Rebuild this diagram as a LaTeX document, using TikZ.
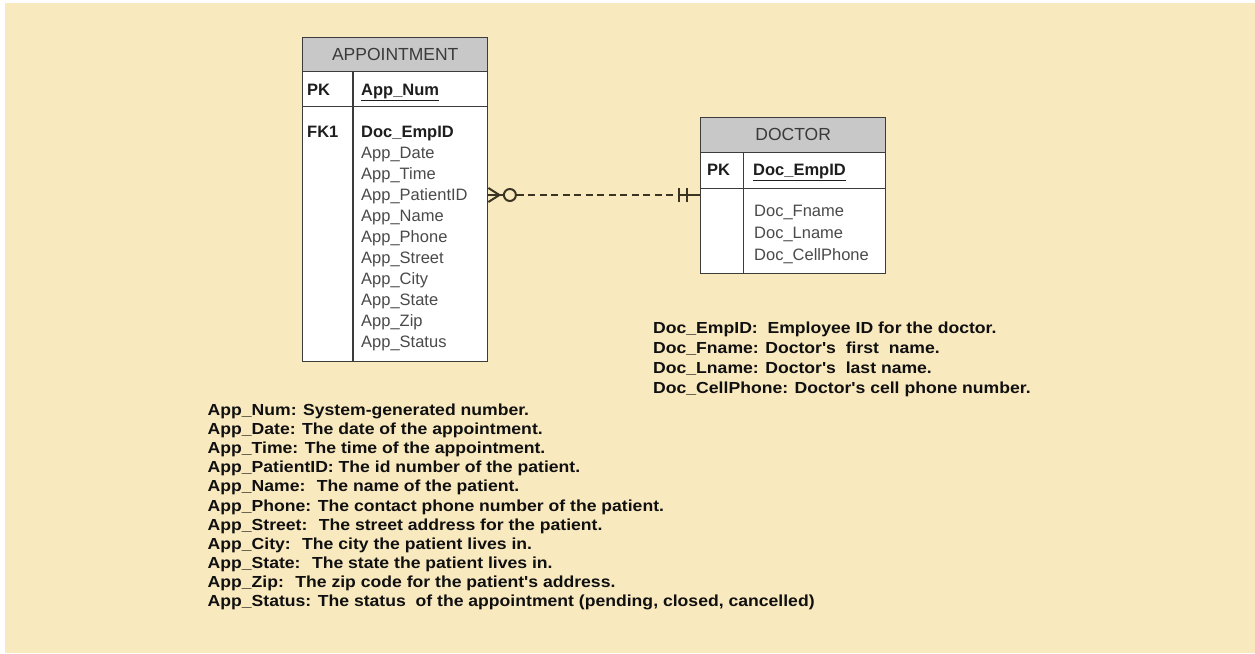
\documentclass[tikz,border=0pt]{standalone}
\usepackage{fontspec}
\setmainfont{Liberation Sans}
\newfontfamily\descfont[FakeStretch=1.1]{Liberation Sans}
\definecolor{cream}{HTML}{F9E9BF}
\definecolor{hdrgray}{HTML}{C8C8C8}
\definecolor{tborder}{HTML}{3C3C3C}
\definecolor{fieldgray}{HTML}{4A4A4A}
\definecolor{keycol}{HTML}{1E1E1E}
\definecolor{titlecol}{HTML}{3A3A3A}
\definecolor{desccol}{HTML}{101010}
\definecolor{linkcol}{HTML}{3A3522}
\begin{document}
\begin{tikzpicture}[x=1pt,y=-1pt,
  tbox/.style={draw=tborder, line width=1.4pt, fill=white, inner sep=0pt, anchor=north west},
  hbox/.style={tbox, fill=hdrgray, font=\fontsize{17.5}{20}\selectfont, text=titlecol},
  tline/.style={draw=tborder, line width=1.4pt},
  fld/.style={anchor=base west, inner sep=0pt, font=\fontsize{16.5}{20}\selectfont, text=fieldgray},
  kfld/.style={fld, font=\fontsize{16.5}{20}\selectfont\bfseries, text=keycol},
  desc/.style={anchor=base west, inner sep=0pt, font=\descfont\fontsize{16}{19}\selectfont\bfseries, text=desccol},
  link/.style={draw=linkcol, line width=2pt}]
\useasboundingbox (0,0) rectangle (1255,653);
\fill[white] (0,0) rectangle (1255,653);
\fill[cream] (5,3) rectangle (1255,653);

% APPOINTMENT table
\node[hbox, minimum width=185pt, minimum height=34pt] (apptH) at (302,37) {APPOINTMENT};
\node[tbox, minimum width=185pt, minimum height=34.7pt] (apptK) at (302,71) {};
\node[tbox, minimum width=185pt, minimum height=255.3pt] (apptB) at (302,105.7) {};
\draw[tline] (353,71) -- (353,361);
\node[kfld] (aPK) at (307,95) {PK};
\node[kfld] (aNum) at (361,95) {\underline{App\_Num}};
\node[kfld] (aFK) at (307,137.3) {FK1};
\node[kfld] (aEmp) at (361,137.3) {Doc\_EmpID};
\foreach \t [count=\i] in {App\_Date, App\_Time, App\_PatientID, App\_Name, App\_Phone, App\_Street, App\_City, App\_State, App\_Zip, App\_Status}
  \node[fld] (af\i) at (361,{137.3+21.04*\i}) {\t};

% DOCTOR table
\node[hbox, minimum width=185pt, minimum height=35pt] (docH) at (700,116.7) {DOCTOR};
\node[tbox, minimum width=185pt, minimum height=36.3pt] (docK) at (700,151.7) {};
\node[tbox, minimum width=185pt, minimum height=84.7pt] (docB) at (700,188) {};
\draw[tline] (743.3,151.7) -- (743.3,272.7);
\node[kfld] (dPK) at (707,175) {PK};
\node[kfld] (dEmp) at (753,175) {\underline{Doc\_EmpID}};
\node[fld] (dF) at (754,216.7) {Doc\_Fname};
\node[fld] (dL) at (754,238.3) {Doc\_Lname};
\node[fld] (dC) at (754,260) {Doc\_CellPhone};

% relationship connector
\coordinate (rowY) at (0,195);
\coordinate (L) at (apptB.east |- rowY);
\coordinate (R) at (docB.west |- rowY);
\draw[link] ([yshift=7pt]L) -- ([xshift=11pt]L) -- ([yshift=-7pt]L);
\draw[link] (L) -- ([xshift=16pt]L);
\node[circle, draw=linkcol, line width=2pt, fill=cream, minimum size=12pt, inner sep=0pt] (ring) at ([xshift=21.5pt]L) {};
\draw[link, dash pattern=on 7pt off 4.5pt] (ring.east) -- ([xshift=-21pt]R);
\draw[link] ([xshift=-21pt]R) -- (R);
\draw[link] ([xshift=-21pt,yshift=7pt]R) -- ([xshift=-21pt,yshift=-7pt]R);
\draw[link] ([xshift=-13pt,yshift=7pt]R) -- ([xshift=-13pt,yshift=-7pt]R);

% DOCTOR descriptions
\node[desc] (dd1) at (653,333.5) {Doc\_EmpID:~ Employee ID for the doctor.};
\node[desc] (dd2) at (653,353.5) {Doc\_Fname: Doctor's~ first~ name.};
\node[desc] (dd3) at (653,373.5) {Doc\_Lname: Doctor's~ last name.};
\node[desc] (dd4) at (653,393.5) {Doc\_CellPhone: Doctor's cell phone number.};

% APPOINTMENT descriptions
\node[desc] (ad1) at (207.5,415.5) {App\_Num: System-generated number.};
\node[desc] (ad2) at (207.5,434.6) {App\_Date: The date of the appointment.};
\node[desc] (ad3) at (207.5,453.7) {App\_Time: The time of the appointment.};
\node[desc] (ad4) at (207.5,472.8) {App\_PatientID: The id number of the patient.};
\node[desc] (ad5) at (207.5,491.9) {App\_Name:~ The name of the patient.};
\node[desc] (ad6) at (207.5,511.0) {App\_Phone: The contact phone number of the patient.};
\node[desc] (ad7) at (207.5,530.1) {App\_Street:~ The street address for the patient.};
\node[desc] (ad8) at (207.5,549.2) {App\_City:~ The city the patient lives in.};
\node[desc] (ad9) at (207.5,568.3) {App\_State:~ The state the patient lives in.};
\node[desc] (ad10) at (207.5,587.4) {App\_Zip:~ The zip code for the patient's address.};
\node[desc] (ad11) at (207.5,606.5) {App\_Status: The status~ of the appointment (pending, closed, cancelled)};
\end{tikzpicture}
\end{document}
